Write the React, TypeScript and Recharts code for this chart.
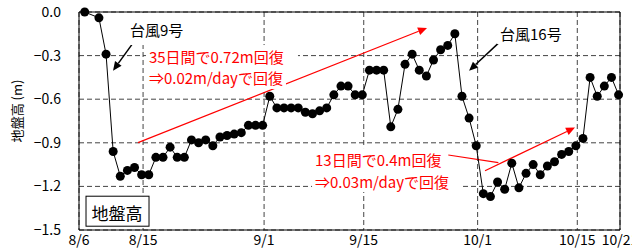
import React from 'react'
import {
	CartesianGrid,
	ComposedChart,
	Line,
	ReferenceArea,
	ReferenceDot,
	ReferenceLine,
	XAxis,
	YAxis,
} from 'recharts'

// days counted from 8/6 (8/7 = 1)
const days = [
	1, 3, 4, 5, 6, 7, 8, 9, 10, 11, 12, 13, 14, 15, 16, 17, 18, 19, 20, 21, 22, 23, 24, 25, 26, 27, 28, 29, 30, 31, 32,
	33, 34, 35, 36, 37, 38, 39, 40, 41, 42, 43, 44, 45, 46, 47, 48, 49, 50, 51, 52, 53, 54, 55, 56, 57, 58, 59, 60, 61,
	62, 63, 64, 65, 66, 67, 68, 69, 70, 71, 72, 73, 74, 75, 76,
]
const groundLevel = [
	0.0, -0.04, -0.29, -0.96, -1.13, -1.09, -1.07, -1.12, -1.12, -1.0, -1.0, -0.93, -1.0, -1.0, -0.88, -0.9, -0.88,
	-0.92, -0.86, -0.85, -0.84, -0.83, -0.78, -0.78, -0.78, -0.58, -0.66, -0.66, -0.66, -0.66, -0.69, -0.7, -0.68,
	-0.66, -0.57, -0.51, -0.51, -0.57, -0.57, -0.4, -0.4, -0.4, -0.79, -0.67, -0.36, -0.29, -0.4, -0.44, -0.33, -0.26,
	-0.23, -0.15, -0.58, -0.73, -0.92, -1.25, -1.27, -1.17, -1.22, -1.04, -1.21, -1.11, -1.05, -1.12, -1.06, -1.03,
	-0.98, -0.96, -0.92, -0.87, -0.45, -0.58, -0.51, -0.45, -0.57,
]

const tickDays = [0, 9, 26, 40, 56, 70, 76]
const tickLabels = ['8/6', '8/15', '9/1', '9/15', '10/1', '10/15', '10/21']
const yTicks = [0, -0.3, -0.6, -0.9, -1.2, -1.5]

// the date axis sits a little left of the daily points
const SHIFT = 0.2
const xTicks = tickDays.map((d) => d + SHIFT)

const data = days.map((d, i) => ({ day: d, level: groundLevel[i] }))

// annotations, in chart coordinates (day, level)
const notes = [
	{ text: '台風9号', day: 7.36, level: -0.117, color: '#000', box: [-3, -16, 62, 32] },
	{ text: '35日間で0.72m回復', day: 10.03, level: -0.303, color: '#f00', box: [-3, -11, 152, 22] },
	{ text: '⇒0.02m/dayで回復', day: 10.03, level: -0.454, color: '#f00', box: [-3, -11, 140, 22] },
	{ text: '台風16号', day: 59.35, level: -0.145, color: '#000', box: [-3, -11, 70, 22] },
	{ text: '13日間で0.4m回復', day: 33.36, level: -1.012, color: '#f00', box: [-3, -11, 132, 22] },
	{ text: '⇒0.03m/dayで回復', day: 33.36, level: -1.163, color: '#f00', box: [-3, -11, 148, 22] },
]

const arrows = [
	{ from: [7.93, -0.204], to: [4.98, -0.404], color: '#000', width: 1.5, head: true },
	{ from: [8.49, -0.899], to: [49.09, -0.11], color: '#f00', width: 1.2, head: true },
	{ from: [59.35, -0.204], to: [55.0, -0.404], color: '#000', width: 1.5, head: true },
	{ from: [52.08, -0.984], to: [59.11, -1.037], color: '#f00', width: 1.2, head: false },
	{ from: [57.24, -1.092], to: [69.88, -0.795], color: '#f00', width: 1.2, head: true },
]

const FONT = "'Noto Sans CJK JP', 'Noto Sans', sans-serif"

const arrowShape = (color: string, width: number, head: boolean) => (p: any) => {
	const { x1, y1, x2, y2 } = p
	const a = Math.atan2(y2 - y1, x2 - x1)
	const len = 9
	const half = 4
	const bx = x2 - len * Math.cos(a)
	const by = y2 - len * Math.sin(a)
	const pts = [
		`${x2},${y2}`,
		`${bx + half * Math.sin(a)},${by - half * Math.cos(a)}`,
		`${bx - half * Math.sin(a)},${by + half * Math.cos(a)}`,
	].join(' ')
	return (
		<g>
			<line x1={x1} y1={y1} x2={head ? bx : x2} y2={head ? by : y2} stroke={color} strokeWidth={width} />
			{head && <polygon points={pts} fill={color} />}
		</g>
	)
}

const noteBox = (box: number[]) => (p: any) => (
	<rect x={p.cx + box[0]} y={p.cy + box[1]} width={box[2]} height={box[3]} fill="#fff" />
)

const noteText = (text: string, color: string) => (p: any) => (
	<text x={p.cx} y={p.cy} fill={color} fontSize={15} fontFamily={FONT} dominantBaseline="central">
		{text}
	</text>
)

const legendShape = (p: any) => (
	<g>
		<rect x={p.cx - 31} y={p.cy - 16.5} width={63} height={30} fill="#fff" stroke="#000" strokeWidth={1} />
		<text x={p.cx} y={p.cy} fontSize={17} fontFamily={FONT} textAnchor="middle" dominantBaseline="central">
			地盤高
		</text>
	</g>
)

const yLabel = (props: any) => {
	const vb = props.viewBox
	const cx = vb.x + 16
	const cy = vb.y + vb.height / 2 - 10
	return (
		<text
			x={cx}
			y={cy}
			transform={`rotate(-90 ${cx} ${cy})`}
			textAnchor="middle"
			dominantBaseline="central"
			fontSize={13}
			fontFamily={FONT}
			fill="#000"
		>
			地盤高 (m)
		</text>
	)
}

const formatX = (v: number) => {
	const i = xTicks.findIndex((t) => Math.abs(t - v) < 0.01)
	return i >= 0 ? tickLabels[i] : ''
}

const formatY = (v: number) => v.toFixed(1).replace('-', '−')

const App = () => {
	return (
		<div style={{ position: 'absolute', left: 0, top: 0, fontFamily: FONT }}>
			<ComposedChart width={632} height={249} data={data} margin={{ top: 12, right: 12, bottom: 0, left: 0 }}>
				<CartesianGrid stroke="#444" strokeDasharray="5 3" />
				<XAxis
					dataKey="day"
					type="number"
					domain={[SHIFT, 76 + SHIFT]}
					ticks={xTicks}
					tickFormatter={formatX}
					interval={0}
					axisLine={false}
					tickLine={false}
					tickSize={5}
					tickMargin={0}
					height={19}
					tick={{ fill: '#000', fontSize: 14, fontFamily: FONT }}
				/>
				<YAxis
					type="number"
					domain={[-1.5, 0]}
					ticks={yTicks}
					tickFormatter={formatY}
					interval={0}
					axisLine={false}
					tickLine={false}
					tickSize={6}
					tickMargin={12}
					width={79}
					tick={{ fill: '#000', fontSize: 14, fontFamily: FONT }}
					label={{ content: yLabel }}
				/>
				{notes.map((n, i) => (
					<ReferenceDot key={`box-${i}`} x={n.day} y={n.level} r={1} shape={noteBox(n.box)} />
				))}
				<ReferenceArea x1={SHIFT} x2={76 + SHIFT} y1={-1.5} y2={0} fill="none" fillOpacity={0} stroke="#000" strokeWidth={1} />
				<ReferenceDot x={5.54} y={-1.381} r={1} shape={legendShape} />
				{arrows.map((a, i) => (
					<ReferenceLine
						key={`arrow-${i}`}
						segment={[
							{ x: a.from[0], y: a.from[1] },
							{ x: a.to[0], y: a.to[1] },
						]}
						shape={arrowShape(a.color, a.width, a.head)}
					/>
				))}
				<Line
					dataKey="level"
					stroke="#000"
					strokeWidth={1}
					dot={{ r: 4.5, fill: '#000', stroke: '#000', strokeWidth: 0 }}
					isAnimationActive={false}
				/>
				{notes.map((n, i) => (
					<ReferenceDot key={`text-${i}`} x={n.day} y={n.level} r={1} shape={noteText(n.text, n.color)} />
				))}
			</ComposedChart>
		</div>
	)
}

export default App
